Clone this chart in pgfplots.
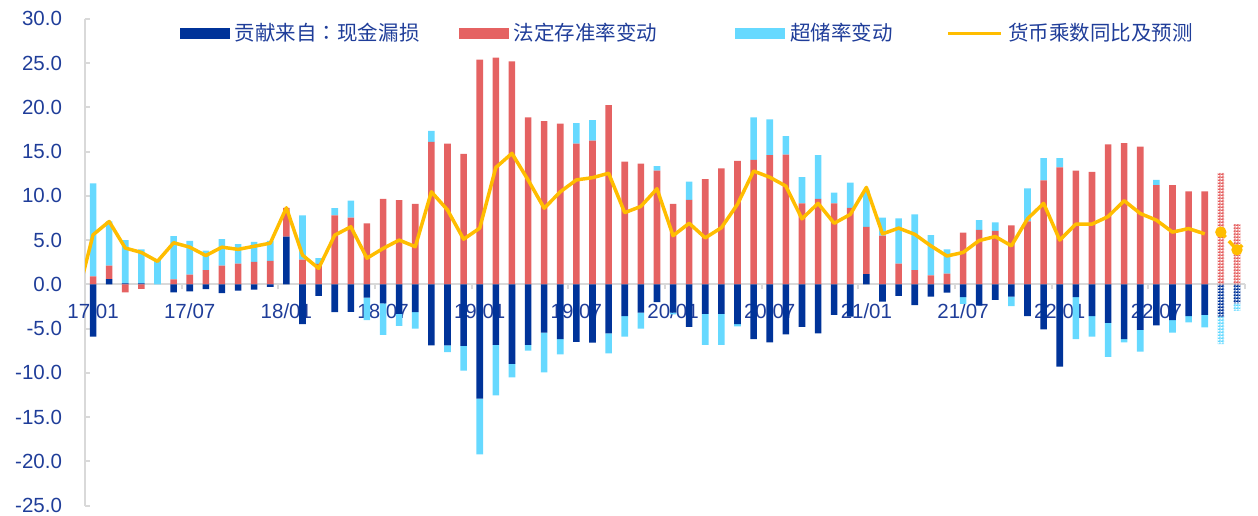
\documentclass[border=0pt]{standalone}
\usepackage{fontspec}
\setmainfont{Liberation Sans}
\newfontfamily\cjk{Noto Sans CJK SC}
\newfontfamily\cjktc{Noto Sans CJK TC}
\usepackage{pgfplots}
\pgfplotsset{compat=1.18}
\usepackage{pgfplotstable}
\usetikzlibrary{patterns}

\definecolor{cdb}{RGB}{0,51,153}
\definecolor{cred}{RGB}{229,98,98}
\definecolor{clb}{RGB}{102,217,255}
\definecolor{cgold}{RGB}{255,189,0}
\definecolor{cgray}{RGB}{217,217,217}
\definecolor{ctext}{RGB}{31,61,153}

\pgfdeclarepatternformonly{finecheck}{\pgfpointorigin}{\pgfpoint{1.4bp}{1.4bp}}{\pgfpoint{1.4bp}{1.4bp}}{%
  \pgfpathrectangle{\pgfpointorigin}{\pgfpoint{0.7bp}{0.7bp}}%
  \pgfpathrectangle{\pgfpoint{0.7bp}{0bp}}{\pgfpoint{0.7bp}{0.7bp}}%
  \pgfpathrectangle{\pgfpoint{0.7bp}{0.7bp}}{\pgfpoint{0.7bp}{0.7bp}}%
  \pgfusepath{fill}}

% x: month index (0 = 17/01), db: cash leakage, red: required reserve ratio, lb: excess reserve ratio, f: forecast flag
\pgfplotstableread{
x db red lb f
0 -5.9 0.9 10.5 0
1 0.6 1.5 5.0 0
2 0.1 -0.9 4.9 0
3 0.1 -0.5 3.85 0
4 0.0 0.0 2.75 0
5 -0.9 0.55 4.9 0
6 -0.8 1.1 3.8 0
7 -0.55 1.6 2.2 0
8 -1.0 2.1 3.0 0
9 -0.7 2.35 2.2 0
10 -0.6 2.55 2.25 0
11 -0.3 2.65 2.25 0
12 5.4 3.25 0.0 0
13 -4.5 2.8 5.0 0
14 -1.3 2.3 0.65 0
15 -3.15 7.8 0.8 0
16 -3.1 7.55 1.9 0
17 -1.5 6.9 -2.55 0
18 -2.15 9.65 -3.55 0
19 -3.35 9.5 -1.35 0
20 -3.15 9.1 -1.85 0
21 -6.9 16.1 1.25 0
22 -6.9 15.9 -0.75 0
23 -6.95 14.75 -2.8 0
24 -12.9 25.4 -6.3 0
25 -6.85 25.6 -5.7 0
26 -9.0 25.2 -1.5 0
27 -6.85 18.85 -0.65 0
28 -5.45 18.45 -4.5 0
29 -6.2 18.15 -1.7 0
30 -6.5 15.9 2.3 0
31 -6.6 16.25 2.3 0
32 -5.55 20.25 -2.25 0
33 -3.6 13.85 -2.3 0
34 -3.2 13.65 -1.8 0
35 -2.0 12.85 0.5 0
36 -3.2 9.1 -0.2 0
37 -4.8 9.55 2.05 0
38 -3.35 11.9 -3.5 0
39 -3.35 13.1 -3.5 0
40 -4.5 13.95 -0.25 0
41 -6.2 14.05 4.8 0
42 -6.55 14.6 4.05 0
43 -5.65 14.65 2.1 0
44 -4.8 9.15 2.95 0
45 -5.55 9.65 4.95 0
46 -3.45 9.15 1.2 0
47 -3.65 8.65 2.85 0
48 1.15 5.35 4.2 0
49 -1.95 5.5 2.05 0
50 -1.3 2.35 5.1 0
51 -2.35 1.6 6.3 0
52 -1.4 1.0 4.55 0
53 -0.95 1.2 2.75 0
54 -1.45 5.85 -0.75 0
55 -2.4 6.15 1.1 0
56 -1.75 6.05 0.95 0
57 -1.4 6.65 -1.05 0
58 -3.6 7.1 3.75 0
59 -5.1 11.75 2.5 0
60 -9.3 13.2 1.05 0
61 -1.45 12.85 -4.75 0
62 -3.6 12.7 -2.3 0
63 -4.35 15.8 -3.85 0
64 -6.2 15.95 -0.35 0
65 -5.15 15.55 -2.45 0
66 -4.65 11.2 0.6 0
67 -4.05 11.2 -1.4 0
68 -3.6 10.5 -0.7 0
69 -3.45 10.5 -1.4 0
70 -3.65 12.6 -3.1 1
71 -2.15 6.8 -0.85 1
}\bars

% money multiplier yoy (actual)
\pgfplotstableread{
x mm
-1 -1.6
0 5.6
1 7.1
2 4.1
3 3.6
4 2.6
5 4.7
6 4.2
7 3.25
8 4.2
9 3.95
10 4.3
11 4.65
12 8.65
13 3.3
14 1.8
15 5.55
16 6.5
17 2.95
18 4.05
19 5.0
20 4.25
21 10.45
22 8.4
23 5.1
24 6.35
25 13.2
26 14.8
27 11.8
28 8.6
29 10.45
30 11.8
31 12.05
32 12.55
33 8.1
34 8.8
35 10.8
36 5.5
37 6.9
38 5.25
39 6.4
40 9.05
41 12.8
42 12.1
43 11.1
44 7.4
45 9.15
46 6.9
47 7.9
48 10.95
49 5.7
50 6.35
51 5.65
52 4.35
53 3.2
54 3.6
55 4.95
56 5.4
57 4.35
58 7.4
59 9.15
60 5.0
61 6.8
62 6.8
63 7.65
64 9.45
65 8.0
66 7.25
67 5.9
68 6.3
69 5.7
}\mline

% forecast
\pgfplotstableread{
x mm
70 5.9
71 3.9
72 5.5
}\fline

\pgfplotsset{
  base/.style={scale only axis, width=580bp, height=243.4bp,
    xmin=-0.5, xmax=71.5, ymin=-25, ymax=30, clip=true},
  barleg/.style={legend image code/.code={\fill[##1] (0bp,-2.65bp) rectangle (25bp,2.65bp);}},
  lineleg/.style={legend image code/.code={\draw[##1] (0bp,0bp) -- (26.5bp,0bp);}},
}

\begin{document}
\begin{tikzpicture}
\begin{axis}[base, name=ax,
  ybar stacked, bar width=3.3bp,
  axis x line*=middle, axis y line*=left,
  hide obscured x ticks=false, hide obscured y ticks=false,
  axis line style={draw=cgray, line width=1bp},
  xtick={-0.5,5.5,...,71.5},
  xticklabels={17/01,17/07,18/01,18/07,19/01,19/07,20/01,20/07,21/01,21/07,22/01,22/07,{}},
  xticklabel style={xshift=4.03bp, yshift=-3.5bp},
  ytick={-25,-20,...,30},
  xtick align=outside, ytick align=inside,
  major tick length=2.5bp,
  tick style={draw=cgray, line width=1bp},
  tick label style={font=\fontsize{10.25bp}{12bp}\selectfont, text=ctext},
  yticklabel style={/pgf/number format/fixed, /pgf/number format/fixed zerofill,
    /pgf/number format/precision=1, /pgf/number format/assume math mode=true, xshift=-8bp},
  scaled y ticks=false,
  barleg,
  legend columns=4,
  legend cell align=left,
  legend style={draw=none, fill=none, inner sep=0pt, outer sep=0pt,
    at={(axis description cs:0.0819,0.97)}, anchor=west,
    font=\cjk\fontsize{10.25bp}{12bp}\selectfont, text=ctext,
    nodes={inner sep=0pt},
    /tikz/every odd column/.append style={column sep=2.5bp},
    /tikz/column 2/.style={column sep=19.5bp},
    /tikz/column 4/.style={column sep=39bp},
    /tikz/column 6/.style={column sep=27bp}},
]
\addplot[fill=cdb, draw=none] table[x=x, y expr={(1-\thisrow{f})*max(\thisrow{db},0)}] {\bars};
\addlegendentry{贡献来自{\cjktc ：}现金漏损}
\addplot[fill=cred, draw=none] table[x=x, y expr={(1-\thisrow{f})*max(\thisrow{red},0)}] {\bars};
\addlegendentry{法定存准率变动}
\addplot[fill=clb, draw=none] table[x=x, y expr={(1-\thisrow{f})*max(\thisrow{lb},0)}] {\bars};
\addlegendentry{超储率变动}
\addplot[forget plot, draw=none, pattern=finecheck, pattern color=cdb] table[x=x, y expr={\thisrow{f}*max(\thisrow{db},0)}] {\bars};
\addplot[forget plot, draw=none, pattern=finecheck, pattern color=cred] table[x=x, y expr={\thisrow{f}*max(\thisrow{red},0)}] {\bars};
\addplot[forget plot, draw=none, pattern=finecheck, pattern color=clb] table[x=x, y expr={\thisrow{f}*max(\thisrow{lb},0)}] {\bars};
\addlegendimage{lineleg, cgold, line width=1.75bp}
\addlegendentry{货币乘数同比及预测}
\end{axis}

\begin{axis}[base, hide axis, ybar stacked, bar width=3.3bp]
\addplot[fill=cdb, draw=none] table[x=x, y expr={(1-\thisrow{f})*min(\thisrow{db},0)}] {\bars};
\addplot[fill=cred, draw=none] table[x=x, y expr={(1-\thisrow{f})*min(\thisrow{red},0)}] {\bars};
\addplot[fill=clb, draw=none] table[x=x, y expr={(1-\thisrow{f})*min(\thisrow{lb},0)}] {\bars};
\addplot[draw=none, pattern=finecheck, pattern color=cdb] table[x=x, y expr={\thisrow{f}*min(\thisrow{db},0)}] {\bars};
\addplot[draw=none, pattern=finecheck, pattern color=cred] table[x=x, y expr={\thisrow{f}*min(\thisrow{red},0)}] {\bars};
\addplot[draw=none, pattern=finecheck, pattern color=clb] table[x=x, y expr={\thisrow{f}*min(\thisrow{lb},0)}] {\bars};
\end{axis}

\begin{axis}[base, hide axis]
\addplot[cgold, line width=1.75bp, line join=round] table[x=x, y=mm] {\mline};
\addplot[cgold, line width=1.75bp, dash pattern=on 3.5bp off 2.5bp, mark=*, mark size=1.9bp,
  mark options={solid, fill=cgold, draw=cgold}, mark indices={1,2}] table[x=x, y=mm] {\fline};
\end{axis}

\pgfresetboundingbox
\useasboundingbox ([xshift=-42.5bp,yshift=-4.7bp]ax.south west) rectangle ([xshift=6.5bp,yshift=9.4bp]ax.north east);
\end{tikzpicture}
\end{document}
